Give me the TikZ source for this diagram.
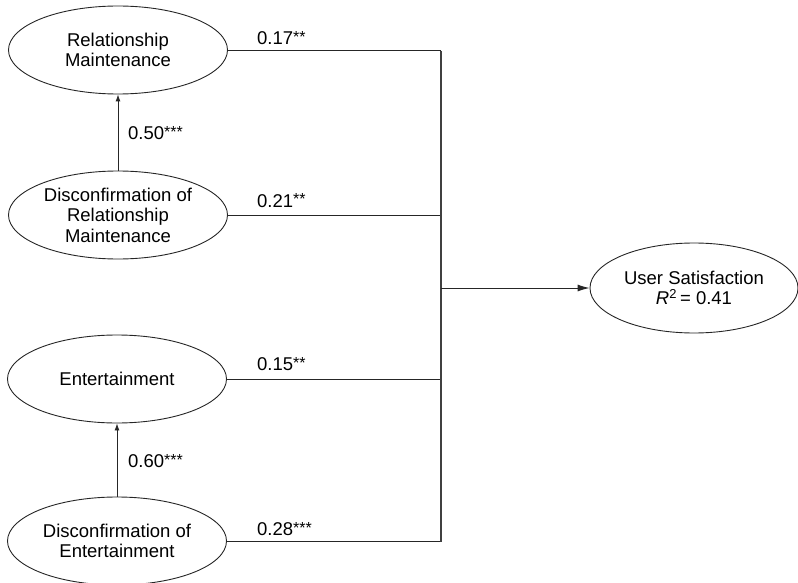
\documentclass[tikz,border=0pt]{standalone}
\usepackage{fontspec}
\setmainfont{Liberation Sans}
\usetikzlibrary{shapes.geometric,arrows.meta}
\newcommand{\stars}[1]{\raisebox{2pt}{\fontsize{16}{16}\selectfont #1}}
\tikzset{
  construct/.style={ellipse, draw=black!85, line width=0.9pt, minimum width=219pt, minimum height=88pt, inner sep=0pt, align=center, font=\fontsize{18.5}{20.5}\selectfont},
  coef/.style={anchor=base west, inner sep=0pt, font=\fontsize{18.5}{20}\selectfont},
  link/.style={draw=black!85, line width=0.9pt},
  bus/.style={draw=black!75, line width=1.4pt},
  tipbig/.style={-{Latex[length=12pt,width=7pt]}},
  tipsmall/.style={-{Latex[length=7pt,width=5pt]}}
}
\begin{document}
\begin{tikzpicture}[x=1pt,y=-1pt]
\useasboundingbox (0,0) rectangle (798,583);
\node[construct] (rm) at (118,50) {Relationship\\Maintenance};
\node[construct] (drm) at (118,215) {Disconfirmation of\\Relationship\\Maintenance};
\node[construct] (ent) at (117,379) {Entertainment};
\node[construct] (dent) at (117,541) {Disconfirmation of\\Entertainment};
\node[construct, minimum width=208pt, minimum height=90pt] (us) at (694,288) {User Satisfaction\\\textit{R}\textsuperscript{2}\,= 0.41};

\coordinate (bustop) at (441,51);
\coordinate (busbot) at (441,542);
\coordinate (hub) at (441,288);

\draw[link] (rm.east) -- (rm.east -| bustop);
\draw[link] (drm.east) -- (drm.east -| bustop);
\draw[link] (ent.east) -- (ent.east -| bustop);
\draw[link] (dent.east) -- (dent.east -| bustop);
\draw[bus] (bustop) -- (busbot);
\draw[link, tipbig] (hub) -- (us.west);
\draw[link, tipsmall] (drm.north) -- (rm.south);
\draw[link, tipsmall] (dent.north) -- (ent.south);

\node[coef] (c1) at (257,45) {0.17\stars{**}};
\node[coef] (c2) at (257,207) {0.21\stars{**}};
\node[coef] (c3) at (128,140) {0.50\stars{***}};
\node[coef] (c4) at (257,370) {0.15\stars{**}};
\node[coef] (c5) at (128,467) {0.60\stars{***}};
\node[coef] (c6) at (257,535) {0.28\stars{***}};
\end{tikzpicture}
\end{document}
